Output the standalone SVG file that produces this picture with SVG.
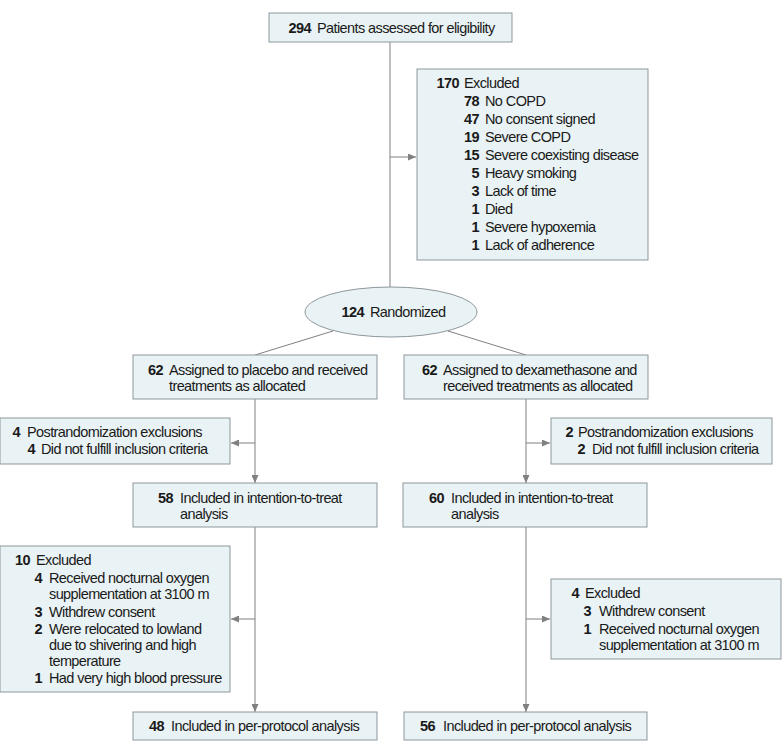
<svg xmlns="http://www.w3.org/2000/svg" width="783" height="754" viewBox="0 0 783 754">
<style>
.box{fill:#e9f2f4;stroke:#8d979c;stroke-width:1}
.ln{fill:none;stroke:#808080;stroke-width:1}
text{font-family:"Liberation Sans",Arial,sans-serif;font-size:14.5px;fill:#1a1a1a;letter-spacing:-0.6px}
.n{font-weight:bold;text-anchor:end}
</style>
<defs>
<marker id="ah" markerUnits="userSpaceOnUse" markerWidth="8" markerHeight="7" refX="8" refY="3.5" orient="auto">
<path d="M0,0 L8,3.5 L0,7 z" fill="#808080"/>
</marker>
</defs>
<rect width="783" height="754" fill="#ffffff"/>
<g id="connectors">
<path class="ln" d="M390,42 V287"/>
<path class="ln" d="M390,157 H416" marker-end="url(#ah)"/>
<path class="ln" d="M333,331 L255,355"/>
<path class="ln" d="M448,331 L526,355"/>
<path class="ln" d="M255,399 V483" marker-end="url(#ah)"/>
<path class="ln" d="M255,443 H231" marker-end="url(#ah)"/>
<path class="ln" d="M255,527 V712" marker-end="url(#ah)"/>
<path class="ln" d="M255,619 H231" marker-end="url(#ah)"/>
<path class="ln" d="M526,399 V483" marker-end="url(#ah)"/>
<path class="ln" d="M526,443 H550" marker-end="url(#ah)"/>
<path class="ln" d="M526,527 V712" marker-end="url(#ah)"/>
<path class="ln" d="M526,619 H550" marker-end="url(#ah)"/>
</g>
<g id="assessed">
<rect class="box" x="269" y="13" width="243" height="29"/>
<text class="n" x="311" y="33">294</text><text x="317" y="33">Patients assessed for eligibility</text>
</g>
<g id="excluded1">
<rect class="box" x="417" y="69" width="231" height="191"/>
<text class="n" x="459" y="88">170</text><text x="464" y="88">Excluded</text>
<text class="n" x="479" y="106">78</text><text x="485" y="106">No COPD</text>
<text class="n" x="479" y="124">47</text><text x="485" y="124">No consent signed</text>
<text class="n" x="479" y="142">19</text><text x="485" y="142">Severe COPD</text>
<text class="n" x="479" y="160">15</text><text x="485" y="160">Severe coexisting disease</text>
<text class="n" x="479" y="178">5</text><text x="485" y="178">Heavy smoking</text>
<text class="n" x="479" y="196">3</text><text x="485" y="196">Lack of time</text>
<text class="n" x="479" y="214">1</text><text x="485" y="214">Died</text>
<text class="n" x="479" y="232">1</text><text x="485" y="232">Severe hypoxemia</text>
<text class="n" x="479" y="250">1</text><text x="485" y="250">Lack of adherence</text>
</g>
<g id="randomized">
<ellipse class="box" cx="391" cy="312" rx="86" ry="25"/>
<text class="n" x="364" y="317">124</text><text x="370" y="317">Randomized</text>
</g>
<g id="placebo">
<rect class="box" x="133" y="355" width="244" height="44"/>
<text class="n" x="163" y="375">62</text><text x="169" y="375">Assigned to placebo and received</text>
<text x="169" y="391">treatments as allocated</text>
</g>
<g id="dexa">
<rect class="box" x="404" y="355" width="244" height="44"/>
<text class="n" x="437" y="375">62</text><text x="443" y="375">Assigned to dexamethasone and</text>
<text x="443" y="391">received treatments as allocated</text>
</g>
<g id="postrand-left">
<rect class="box" x="0" y="418" width="230" height="46"/>
<text class="n" x="20" y="437">4</text><text x="27" y="437">Postrandomization exclusions</text>
<text class="n" x="35" y="454">4</text><text x="41" y="454">Did not fulfill inclusion criteria</text>
</g>
<g id="postrand-right">
<rect class="box" x="551" y="418" width="221" height="46"/>
<text class="n" x="573" y="437">2</text><text x="578" y="437">Postrandomization exclusions</text>
<text class="n" x="585" y="454">2</text><text x="592" y="454">Did not fulfill inclusion criteria</text>
</g>
<g id="itt-left">
<rect class="box" x="133" y="483" width="244" height="44"/>
<text class="n" x="173" y="503">58</text><text x="180" y="503">Included in intention-to-treat</text>
<text x="180" y="519">analysis</text>
</g>
<g id="itt-right">
<rect class="box" x="403" y="483" width="244" height="44"/>
<text class="n" x="444" y="503">60</text><text x="451" y="503">Included in intention-to-treat</text>
<text x="451" y="519">analysis</text>
</g>
<g id="excluded-left">
<rect class="box" x="0" y="546" width="230" height="146"/>
<text class="n" x="30" y="565">10</text><text x="36" y="565">Excluded</text>
<text class="n" x="42" y="583">4</text><text x="49" y="583">Received nocturnal oxygen</text>
<text x="49" y="599">supplementation at 3100 m</text>
<text class="n" x="42" y="617">3</text><text x="49" y="617">Withdrew consent</text>
<text class="n" x="42" y="634">2</text><text x="49" y="634">Were relocated to lowland</text>
<text x="49" y="650">due to shivering and high</text>
<text x="49" y="666">temperature</text>
<text class="n" x="42" y="683">1</text><text x="49" y="683">Had very high blood pressure</text>
</g>
<g id="excluded-right">
<rect class="box" x="551" y="579" width="230" height="80"/>
<text class="n" x="579" y="598">4</text><text x="585" y="598">Excluded</text>
<text class="n" x="591" y="616">3</text><text x="599" y="616">Withdrew consent</text>
<text class="n" x="591" y="634">1</text><text x="599" y="634">Received nocturnal oxygen</text>
<text x="599" y="650">supplementation at 3100 m</text>
</g>
<g id="pp-left">
<rect class="box" x="133" y="712" width="244" height="28"/>
<text class="n" x="164" y="731">48</text><text x="171" y="731">Included in per-protocol analysis</text>
</g>
<g id="pp-right">
<rect class="box" x="404" y="712" width="243" height="28"/>
<text class="n" x="435" y="731">56</text><text x="443" y="731">Included in per-protocol analysis</text>
</g>
</svg>
